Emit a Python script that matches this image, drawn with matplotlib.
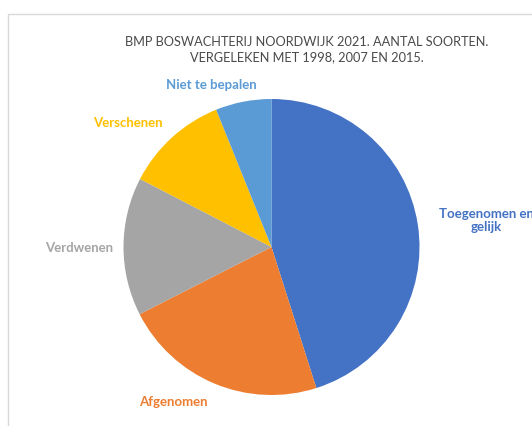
import matplotlib
matplotlib.use("Agg")
import matplotlib.pyplot as plt
from matplotlib.patches import Rectangle

# Chart data
categories = ["Toegenomen en\ngelijk", "Afgenomen", "Verdwenen", "Verschenen", "Niet te bepalen"]
shares = [45.1, 22.4, 15.1, 11.3, 6.1]
colors = ["#4472C4", "#ED7D31", "#A5A5A5", "#FFC000", "#5B9BD5"]

# label spots in pie data units (radius = 1)
label_xy = [(1.45, 0.18), (-0.66, -1.05), (-1.30, -0.01), (-0.97, 0.84), (-0.405, 1.095)]

W, H = 532, 426
fig = plt.figure(figsize=(W / 100, H / 100), dpi=100)
fig.patch.set_facecolor("white")

# chart area border (cut off at right/bottom in the original)
fig.patches.append(Rectangle((8 / W, -0.1), 1.2, 1.1 - 14 / H, transform=fig.transFigure,
                             fill=False, edgecolor="#D9D9D9", lw=1))

# pie axes: centre (271.5, 247) px, radius 148 px
cx, cy, r = 271.5, 247, 148
ax = fig.add_axes([(cx - r) / W, (H - cy - r) / H, 2 * r / W, 2 * r / H])
ax.pie(shares, colors=colors, startangle=90, counterclock=False,
       wedgeprops=dict(linewidth=0))
ax.set_xlim(-1, 1)
ax.set_ylim(-1, 1)
ax.set_aspect("equal")
ax.axis("off")

for name, (x, y), c in zip(categories, label_xy, colors):
    ax.text(x, y, name, ha="center", va="center", color=c, fontsize=9.5,
            fontweight="bold", family="Lato", multialignment="center",
            linespacing=1.1, clip_on=False)

fig.text(306.7 / W, 1 - 49.3 / H,
         "BMP BOSWACHTERIJ NOORDWIJK 2021. AANTAL SOORTEN.\nVERGELEKEN MET 1998, 2007 EN 2015.",
         ha="center", va="center", color="#4a4a4a", fontsize=9.2, family="Lato",
         linespacing=1.35)

fig.savefig("out.png", dpi=100)
